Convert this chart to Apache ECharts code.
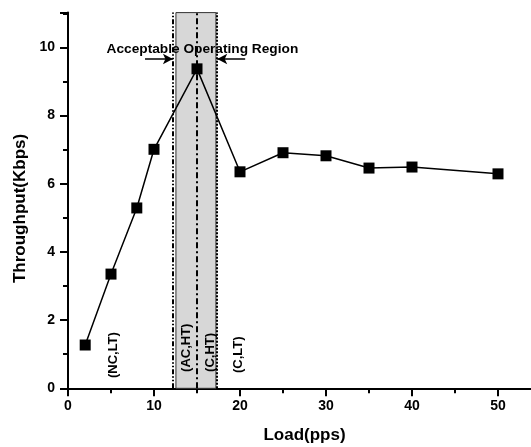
<!DOCTYPE html>
<html>
<head>
<meta charset="utf-8">
<script src="https://cdn.jsdelivr.net/npm/echarts@6/dist/echarts.min.js"></script>
<style>
  html, body { margin: 0; padding: 0; background: #fff; }
  #chart { width: 531px; height: 447px; }
</style>
</head>
<body>
<div id="chart"></div>
<script>
// Offered load (packets per second) and measured throughput (Kbps)
const loads = [2, 5, 8, 10, 15, 20, 25, 30, 35, 40, 50];
const throughput = [1.27, 3.35, 5.29, 7.01, 9.37, 6.35, 6.91, 6.82, 6.46, 6.49, 6.29];

// Shaded band: the acceptable operating region on the load axis
const regionBand = [12.55, 17.2];
const regionTitle = 'Acceptable Operating Region';

// Boundary / reference lines on the load axis
const boundaryLoads = [12.2, 15, 17.35];

// Operating-state labels and where they sit (load, throughput of text base)
const stateNames = ['(NC,LT)', '(AC,HT)', '(C,HT)', '(C,LT)'];
const stateLoads = [5.25, 13.8, 16.55, 19.8];
const stateBase = [0.3, 0.48, 0.48, 0.45];

const FONT = "'Liberation Sans', Arial, sans-serif";
const chart = echarts.init(document.getElementById('chart'), null, { renderer: 'canvas' });

const option = {
  backgroundColor: '#ffffff',
  animation: false,
  grid: { left: 68, right: -10, top: 12.6, bottom: 58.7, containLabel: false, outerBoundsMode: 'none' },
  xAxis: {
    type: 'value',
    min: 0, max: 55, interval: 10,
    name: 'Load(pps)',
    nameLocation: 'middle',
    nameGap: 39,
    nameTextStyle: { fontFamily: FONT, fontWeight: 'bold', fontSize: 17, color: '#000' },
    axisLine: { show: true, onZero: false, lineStyle: { color: '#000', width: 2 } },
    axisTick: { show: true, inside: false, length: 8, lineStyle: { color: '#000', width: 2 } },
    minorTick: { show: true, splitNumber: 2, length: 5, lineStyle: { color: '#000', width: 2 } },
    axisLabel: { fontFamily: FONT, fontWeight: 'bold', fontSize: 14, color: '#000', margin: 11,
      formatter: v => (v > 50 ? '' : String(v)) },
    splitLine: { show: false }
  },
  yAxis: {
    type: 'value',
    min: 0, max: 11.02, interval: 2,
    name: 'Throughput(Kbps)',
    nameLocation: 'middle',
    nameGap: 36,
    nameRotate: 90,
    nameTextStyle: { fontFamily: FONT, fontWeight: 'bold', fontSize: 17, color: '#000', padding: [0, 16, 0, 0] },
    axisLine: { show: true, onZero: false, lineStyle: { color: '#000', width: 2 } },
    axisTick: { show: true, inside: false, length: 8, lineStyle: { color: '#000', width: 2 } },
    minorTick: { show: true, splitNumber: 2, length: 5, lineStyle: { color: '#000', width: 2 } },
    axisLabel: { fontFamily: FONT, fontWeight: 'bold', fontSize: 14, color: '#000', margin: 13,
      formatter: v => (v > 10 ? '' : String(v)) },
    splitLine: { show: false }
  },
  series: [
    {
      type: 'line',
      data: loads.map((x, i) => [x, throughput[i]]),
      symbol: 'rect',
      symbolSize: 11,
      lineStyle: { color: '#000', width: 1.5 },
      itemStyle: { color: '#000' },
      z: 5,
      markArea: {
        silent: true,
        itemStyle: { color: '#d7d7d7', borderColor: '#333', borderWidth: 1 },
        data: [[{ xAxis: regionBand[0], yAxis: 0 }, { xAxis: regionBand[1], yAxis: 11.02 }]]
      },
      markLine: {
        silent: true,
        symbol: 'none',
        label: { show: false },
        data: [
          [{ coord: [boundaryLoads[0], 0], lineStyle: { type: [5, 2, 1.5, 2, 1.5, 2] } },
           { coord: [boundaryLoads[0], 11.02] }],
          [{ coord: [boundaryLoads[1], 0], lineStyle: { type: [6, 3, 2, 3] } },
           { coord: [boundaryLoads[1], 11.02] }],
          [{ coord: [boundaryLoads[2], 0], lineStyle: { type: [2, 1.5] } },
           { coord: [boundaryLoads[2], 11.02] }],
          // arrows pointing inward at the region edges
          [{ coord: [8.95, 9.66], symbol: 'none', lineStyle: { type: 'solid', width: 1.5 } },
           { coord: [12.2, 9.66], symbol: 'arrow', symbolSize: [8, 10] }],
          [{ coord: [20.6, 9.66], symbol: 'none', lineStyle: { type: 'solid', width: 1.5 } },
           { coord: [17.35, 9.66], symbol: 'arrow', symbolSize: [8, 10] }]
        ],
        lineStyle: { color: '#000', width: 2 }
      },
      markPoint: {
        silent: true,
        symbol: 'circle',
        symbolSize: 0,
        itemStyle: { color: 'rgba(0,0,0,0)' },
        data: [
          {
            coord: [15.63, 9.94],
            label: { show: true, position: 'inside', formatter: regionTitle,
              fontFamily: FONT, fontWeight: 'bold', fontSize: 13.7, color: '#000' }
          }
        ].concat(stateNames.map((name, i) => ({
          coord: [stateLoads[i], stateBase[i]],
          label: { show: true, position: 'inside', formatter: name, rotate: 90,
            align: 'left', verticalAlign: 'middle',
            fontFamily: FONT, fontWeight: 'bold', fontSize: 13, color: '#000' }
        })))
      }
    }
  ]
};

chart.setOption(option);
</script>
</body>
</html>
